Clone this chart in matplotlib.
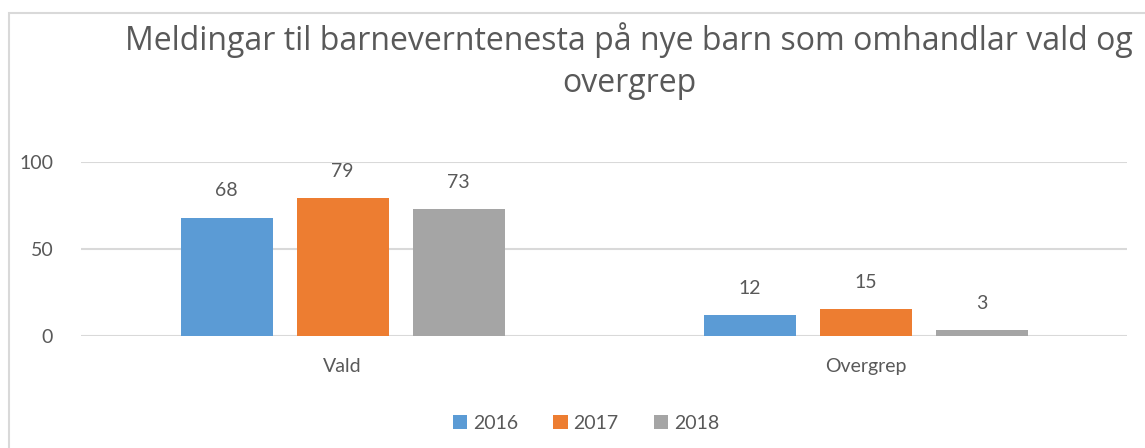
import numpy as np
import matplotlib.pyplot as plt
from matplotlib.patches import Rectangle

categories = ["Vald", "Overgrep"]
years = ["2016", "2017", "2018"]
values_2016 = [68, 12]
values_2017 = [79, 15]
values_2018 = [73, 3]
colors = ["#5B9BD5", "#ED7D31", "#A5A5A5"]
title = "Meldingar til barneverntenesta på nye barn som omhandlar vald og\novergrep"

text_col = "#595959"
W, H = 1145, 448
fig = plt.figure(figsize=(W / 100, H / 100), dpi=100)

# chart border (cut off at the right and bottom like the source)
fig.patches.append(Rectangle((9 / W, -0.1), 1.2, 1 - 13 / H + 0.1,
                             transform=fig.transFigure, fill=False,
                             edgecolor="#D9D9D9", linewidth=1.5))

ax = fig.add_axes([81 / W, 1 - 335.5 / H, (1127 - 81) / W, (335.5 - 162) / H])

series = [values_2016, values_2017, values_2018]
x = np.arange(len(categories))
width = 92 / 523
step = 116 / 523
for i, (vals, c, yr) in enumerate(zip(series, colors, years)):
    pos = x + (i - 1) * step
    bars = ax.bar(pos, vals, width, color=c, label=yr, zorder=3)
    for b, v in zip(bars, vals):
        ax.annotate(str(v), (b.get_x() + b.get_width() / 2, v),
                    xytext=(0, 13), textcoords="offset points",
                    ha="center", va="bottom", fontsize=14,
                    family="Lato", color=text_col)

ax.set_xlim(-0.5, 1.5)
ax.set_ylim(0, 100)
ax.set_yticks([0, 50, 100])
ax.set_xticks(x)
ax.set_xticklabels(categories)
ax.yaxis.grid(True, color="#D9D9D9", linewidth=1.5, zorder=0)
for s in ax.spines.values():
    s.set_visible(False)
ax.tick_params(length=0, labelsize=14, labelcolor=text_col)
ax.tick_params(axis="y", pad=20)
ax.tick_params(axis="x", pad=16)
for lbl in ax.get_xticklabels() + ax.get_yticklabels():
    lbl.set_family("Lato")

fig.text(629 / W, 1 - 61 / H, title, ha="center", va="center",
         fontsize=23, family="Open Sans", color=text_col, linespacing=1.35)

leg = fig.legend(loc="center", bbox_to_anchor=(586 / W, 1 - 423 / H), ncol=3,
                 frameon=False, prop={"family": "Lato", "size": 14},
                 handlelength=0.75, handleheight=0.75, handletextpad=0.3,
                 columnspacing=1.8)
for t in leg.get_texts():
    t.set_color(text_col)

fig.savefig("out.png", dpi=100)
